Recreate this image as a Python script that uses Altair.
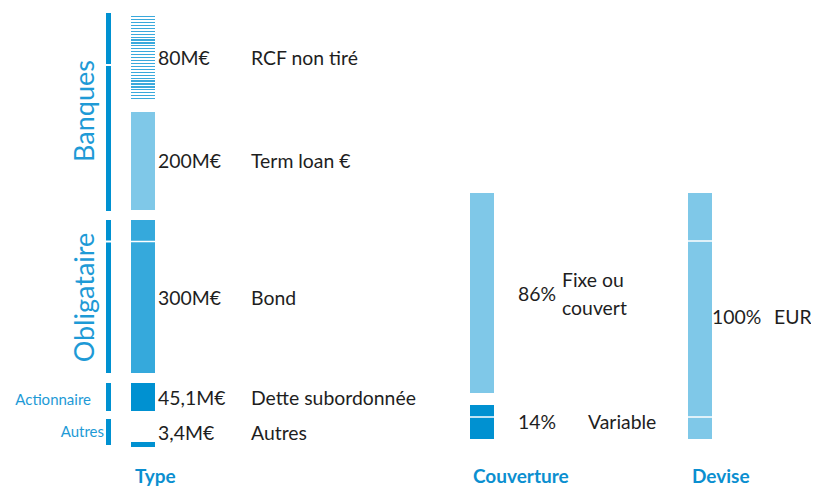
import altair as alt
import pandas as pd
import numpy as np

# ---------------- data ----------------
type_names = ["RCF non tiré", "Term loan €", "Bond", "Dette subordonnée", "Autres"]
type_amounts = [80, 200, 300, 45.1, 3.4]          # M€
holder_groups = ["Banques", "Obligataire", "Actionnaire", "Autres"]
cover_names = ["Fixe ou\ncouvert", "Variable"]
cover_shares = [86, 14]                           # %
currency_names = ["EUR"]
currency_shares = [100]                           # %
column_titles = ["Type", "Couverture", "Devise"]

# ---------------- layout (illustrative spans, in layout units) ----------------
W, H = 803, 478
type_spans = [(16, 101), (112, 210), (220, 373), (383, 411), (442, 447)]
type_label_base = [65, 168, 305, 405, 440]
type_splits = [241.5]
cover_spans = [(193, 393), (405, 439)]
cover_splits = [417]
cover_label_base = [301, 429]
cover_name_base = [287, 429]
currency_spans = [(193, 439)]
currency_splits = [241, 417]
currency_label_base = [324]
holder_spans = [[(13, 64), (66, 211)], [(220, 240.5), (242.5, 373)], [(383, 411)], [(419, 445)]]
col_x = {"Type": 131, "Couverture": 470, "Devise": 688}
BAR_W = 24

DARK = "#0091d1"
MID = "#35a9dc"
LIGHT = "#7fc8e8"
TXT = "#1e1e1e"
FONT = "Lato"

xs = alt.Scale(domain=[8, 8 + W], nice=False, zero=False)
ys = alt.Scale(domain=[8, 8 + H], nice=False, zero=False, reverse=True)


def X(f):
    return alt.X(f, type="quantitative", scale=xs, axis=None)


def Y(f):
    return alt.Y(f, type="quantitative", scale=ys, axis=None)


def fmt_m(v):
    return f"{v:g}M€".replace(".", ",")


# bars
type_colors = [None, LIGHT, MID, DARK, DARK]
rows = []
for i, (n, s) in enumerate(zip(type_names, type_spans)):
    if type_colors[i] is None:
        continue
    rows.append(dict(name=n, x=col_x["Type"], x2=col_x["Type"] + BAR_W, y=s[0], y2=s[1], c=type_colors[i]))
for n, s, c in zip(cover_names, cover_spans, [LIGHT, DARK]):
    rows.append(dict(name=n, x=col_x["Couverture"], x2=col_x["Couverture"] + BAR_W, y=s[0], y2=s[1], c=c))
for n, s in zip(currency_names, currency_spans):
    rows.append(dict(name=n, x=col_x["Devise"], x2=col_x["Devise"] + BAR_W, y=s[0], y2=s[1], c=LIGHT))
bars_df = pd.DataFrame(rows)

bars = alt.Chart(bars_df).mark_rect().encode(
    x=X("x"), x2="x2", y=Y("y"), y2="y2", color=alt.Color("c:N", scale=None)
)

# striped (undrawn RCF) bar
n_str = 29
stops = []
for i in range(n_str):
    a = i / n_str
    b = (i + 0.4) / n_str
    c = (i + 1) / n_str
    stops += [alt.GradientStop(offset=a, color="#3aa9dc"), alt.GradientStop(offset=b, color="#3aa9dc"),
              alt.GradientStop(offset=b, color="#ffffff"), alt.GradientStop(offset=c, color="#ffffff")]
grad = alt.LinearGradient(gradient="linear", stops=stops, x1=0, x2=0, y1=0, y2=1)
rcf_df = pd.DataFrame([dict(name=type_names[0], x=col_x["Type"], x2=col_x["Type"] + BAR_W,
                            y=type_spans[0][0], y2=type_spans[0][1])])
rcf = alt.Chart(rcf_df).mark_rect(fill=grad).encode(x=X("x"), x2="x2", y=Y("y"), y2="y2")

# white separators
sep_rows = [dict(x=col_x["Type"], x2=col_x["Type"] + BAR_W, y=v) for v in type_splits]
sep_rows += [dict(x=col_x["Couverture"], x2=col_x["Couverture"] + BAR_W, y=v) for v in cover_splits]
sep_rows += [dict(x=col_x["Devise"], x2=col_x["Devise"] + BAR_W, y=v) for v in currency_splits]
seps = alt.Chart(pd.DataFrame(sep_rows)).mark_rule(color="white", strokeWidth=1.5).encode(
    x=X("x"), x2="x2", y=Y("y"))

# holder brackets
br_rows = []
for g, spans in zip(holder_groups, holder_spans):
    for s in spans:
        br_rows.append(dict(g=g, x=106, x2=111, y=s[0], y2=s[1]))
brackets = alt.Chart(pd.DataFrame(br_rows)).mark_rect(color=DARK).encode(
    x=X("x"), x2="x2", y=Y("y"), y2="y2")

# value + name labels
lab_rows = []
for n, v, b in zip(type_names, type_amounts, type_label_base):
    lab_rows.append(dict(t=fmt_m(v), x=158, y=b))
    lab_rows.append(dict(t=n, x=251, y=b))
for n, v, b, nb, nx in zip(cover_names, cover_shares, cover_label_base, cover_name_base, [562, 588]):
    lab_rows.append(dict(t=f"{v}%", x=518, y=b))
    lab_rows.append(dict(t=n, x=nx, y=nb))
for n, v, b in zip(currency_names, currency_shares, currency_label_base):
    lab_rows.append(dict(t=f"{v}%", x=712, y=b))
    lab_rows.append(dict(t=n, x=774, y=b))
labels = alt.Chart(pd.DataFrame(lab_rows)).mark_text(
    align="left", baseline="alphabetic", font=FONT, fontSize=19.4, color=TXT, lineBreak="\n", lineHeight=28
).encode(x=X("x"), y=Y("y"), text="t:N")

# holder group labels
big = pd.DataFrame([dict(t=holder_groups[0], x=94, y=111), dict(t=holder_groups[1], x=94, y=297.5)])
big_labels = alt.Chart(big).mark_text(
    angle=270, align="center", baseline="alphabetic", font=FONT, fontSize=27, color="#1e9ad6"
).encode(x=X("x"), y=Y("y"), text="t:N")
small = pd.DataFrame([dict(t=holder_groups[2], x=91, y=405), dict(t=holder_groups[3], x=104, y=437)])
small_labels = alt.Chart(small).mark_text(
    align="right", baseline="alphabetic", font=FONT, fontSize=15, color="#1e9ad6"
).encode(x=X("x"), y=Y("y"), text="t:N")

# column titles
tit = pd.DataFrame([dict(t=column_titles[0], x=135), dict(t=column_titles[1], x=473), dict(t=column_titles[2], x=692)])
tit["y"] = 483
titles = alt.Chart(tit).mark_text(
    align="left", baseline="alphabetic", font=FONT, fontSize=19, fontWeight="bold", color="#0b8fd0"
).encode(x=X("x"), y=Y("y"), text="t:N")

chart = alt.layer(bars, rcf, seps, brackets, labels, big_labels, small_labels, titles).properties(
    width=W, height=H, autosize=alt.AutoSizeParams(type="none"), padding=0
).configure_view(strokeWidth=0)

chart.save("out.html", embed_options={"renderer": "svg", "actions": False})
